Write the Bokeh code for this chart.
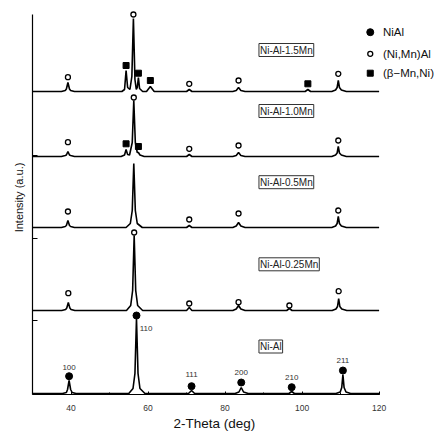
import numpy as np
from bokeh.plotting import figure
from bokeh.models import Range1d, SingleIntervalTicker, FixedTicker, Label
from bokeh.embed import file_html
from bokeh.resources import INLINE
from bokeh.core.properties import value

FONT = "Liberation Sans"

# ---- data (2-theta in deg, intensity in a.u.) ----
samples = ["Ni-Al", "Ni-Al-0.25Mn", "Ni-Al-0.5Mn", "Ni-Al-1.0Mn", "Ni-Al-1.5Mn"]
offsets = [1, 84, 167, 238, 303]

nial_x = [30, 37.8, 38.8, 39.1, 39.5, 39.9, 40.3, 41.3,
          55.0, 56.1, 56.6, 57.0, 57.4, 57.9, 59.2,
          70.5, 71.3, 72.1,
          82.6, 83.6, 84.2, 84.8, 86.0,
          96.6, 97.3, 98.0,
          108.8, 109.9, 110.3, 110.6, 110.9, 111.4, 112.6, 120]
nial_y = [0, 0, 1, 4, 13, 4, 1, 0,
          0, 5, 20, 75, 20, 5, 0,
          0, 3, 0,
          0, 1.5, 6, 1.5, 0,
          0, 2, 0,
          0, 1.5, 6, 19, 6, 1.5, 0, 0]

mn025_x = [30, 37.6, 38.6, 38.9, 39.3, 39.7, 40.0, 41.0,
           54.4, 55.5, 56.0, 56.4, 56.8, 57.3, 58.6,
           70.0, 70.7, 71.4,
           82.0, 82.9, 83.5, 84.1, 85.2,
           96.0, 96.7, 97.4,
           107.8, 108.8, 109.2, 109.5, 109.8, 110.3, 111.6, 120]
mn025_y = [0, 0, 1, 2.5, 8, 2.5, 1, 0,
           0, 5, 20, 75, 20, 5, 0,
           0, 3, 0,
           0, 1.5, 5, 1.5, 0,
           0, 2, 0,
           0, 1.5, 4, 12, 4, 1.5, 0, 0]

mn05_x = [30, 37.5, 38.5, 38.8, 39.2, 39.6, 39.9, 40.9,
          54.3, 55.4, 55.9, 56.3, 56.7, 57.2, 58.5,
          70.0, 70.7, 71.4,
          82.0, 82.9, 83.5, 84.1, 85.2,
          107.7, 108.7, 109.1, 109.4, 109.7, 110.2, 111.5, 120]
mn05_y = [0, 0, 1, 2, 7, 2, 1, 0,
          0, 4, 17, 64, 17, 4, 0,
          0, 2, 0,
          0, 1.5, 5, 1.5, 0,
          0, 1.5, 4, 11, 4, 1.5, 0, 0]

mn10_x = [30, 37.5, 38.5, 38.8, 39.2, 39.6, 39.9, 40.9,
          53.0, 53.9, 54.3, 54.7, 55.2, 55.9, 56.3, 56.7, 57.2, 57.5, 57.9, 59.0,
          70.0, 70.7, 71.4,
          82.0, 82.9, 83.5, 84.1, 85.2,
          107.7, 108.7, 109.1, 109.4, 109.7, 110.2, 111.5, 120]
mn10_y = [0, 0, 1, 1.5, 5, 1.5, 1, 0,
          0, 1.5, 7, 2, 1.5, 14, 56, 14, 4, 4, 1.5, 0,
          0, 2, 0,
          0, 1, 4, 1, 0,
          0, 1.5, 3.5, 10, 3.5, 1.5, 0, 0]

mn15_x = [30, 37.5, 38.5, 38.8, 39.2, 39.6, 39.9, 40.9,
          53.2, 53.9, 54.3, 54.7, 55.3, 55.8, 56.2, 56.6, 56.95, 57.2, 57.5, 57.8, 58.6,
          59.6, 60.6, 61.6,
          70.0, 70.7, 71.4,
          82.0, 82.9, 83.5, 84.1, 85.2,
          100.8, 101.5, 102.2,
          107.7, 108.7, 109.1, 109.4, 109.7, 110.2, 111.5, 120]
mn15_y = [0, 0, 1, 2.5, 9, 2.5, 1, 0,
          0, 2, 21, 4, 2, 15, 73, 12, 2, 4, 14, 3, 0,
          0, 5, 0,
          0, 2, 0,
          0, 1, 4, 1, 0,
          0, 2, 0,
          0, 1.5, 4, 11, 4, 1.5, 0, 0]

patterns_x = [nial_x, mn025_x, mn05_x, mn10_x, mn15_x]
patterns_y = [nial_y, mn025_y, mn05_y, mn10_y, mn15_y]

# phase markers
nial_mx = [39.5, 57.0, 71.3, 84.2, 97.3, 110.6]
nial_my = [18.3, 79, 8.3, 12, 7.3, 24]
hkl_labels = ["100", "110", "111", "200", "210", "211"]
hkl_x = [39.5, 59.5, 71.3, 84.2, 97.3, 110.6]
hkl_y = [27.3, 66, 20, 22.3, 17.3, 34]

nimnal_mx = [39.3, 56.4, 70.7, 83.5, 96.7, 109.5,
             39.2, 70.7, 83.5, 109.4,
             39.2, 56.3, 70.7, 83.5, 109.4,
             39.2, 56.2, 70.7, 83.5, 109.4]
nimnal_my = [101.3, 162, 91, 92.3, 89, 103.3,
             183, 175, 181, 184,
             252.3, 297, 245.7, 249, 254,
             317.3, 380, 310.7, 314, 320.7]

bmn_mx = [54.3, 57.5, 54.3, 57.5, 60.6, 101.5]
bmn_my = [250.7, 248, 329, 321.3, 314, 310.7]

label_x = 88.8
label_y = [48, 130.2, 212.3, 283.5, 344.5]

legend_names = ["NiAl", "(Ni,Mn)Al", "(\u03b2\u2212Mn,Ni)"]
legend_mx = 117.7
legend_tx = 121.0
legend_y = [362.3, 340.7, 321.3]

yticks = [74, 156.5, 239]

xlabel_text = "2-Theta (deg)"

# ---- figure ----
p = figure(width=436, height=433, output_backend="svg", toolbar_location=None,
           x_range=Range1d(30, 134.9), y_range=Range1d(0, 394),
           min_border_left=32, min_border_right=0, min_border_top=0,
           min_border_bottom=39, title_location="below")
p.outline_line_color = None
p.grid.visible = False
p.background_fill_color = "white"

# x-axis title placed as a below-title so that it can be centred under the axis line
p.title.text = xlabel_text
p.title.align = "left"
p.title.offset = 141
p.title.standoff = 1
p.title.text_font = FONT
p.title.text_font_size = "13.5px"
p.title.text_font_style = "normal"
p.title.text_color = "#111111"

p.xaxis.bounds = (30, 120)
p.xaxis.ticker = SingleIntervalTicker(interval=20, num_minor_ticks=2)
p.xaxis.major_tick_in = 3
p.xaxis.major_tick_out = 0
p.xaxis.minor_tick_in = 2
p.xaxis.minor_tick_out = 0
p.xaxis.axis_line_color = "black"
p.xaxis.axis_line_width = 1.2
p.xaxis.major_label_text_font = FONT
p.xaxis.major_label_text_font_size = "8.5px"
p.xaxis.major_label_text_color = "#333333"
p.xaxis.major_label_standoff = 10

p.yaxis.bounds = (0, 380)
p.yaxis.ticker = FixedTicker(ticks=yticks)
p.yaxis.major_label_overrides = {t: "" for t in yticks}
p.yaxis.major_tick_in = 5
p.yaxis.major_tick_out = 0
p.yaxis.axis_line_width = 1.2
p.yaxis.minor_tick_line_color = None
p.yaxis.axis_label = "Intensity (a.u.)"
p.yaxis.axis_label_text_font = FONT
p.yaxis.axis_label_text_font_size = "11px"
p.yaxis.axis_label_text_font_style = "normal"
p.yaxis.axis_label_text_color = "#111111"
p.yaxis.axis_label_standoff = 8

for xs, ys, off in zip(patterns_x, patterns_y, offsets):
    p.line(xs, np.array(ys) + off, line_color="black", line_width=1.6)

p.scatter(nial_mx, nial_my, marker="circle", size=7, fill_color="black", line_color="black")
p.scatter(nimnal_mx, nimnal_my, marker="circle", size=5, fill_color="white",
          line_color="black", line_width=1.3)
p.scatter(bmn_mx, bmn_my, marker="square", size=6, fill_color="black", line_color="black")

p.text(hkl_x, hkl_y, text=hkl_labels, text_font=value(FONT), text_font_size="8px",
       text_color="#333333", text_align="center", text_baseline="middle")

for name, ly in zip(samples, label_y):
    p.add_layout(Label(x=label_x, y=ly, text=name, text_font=FONT, text_font_size="10px",
                       text_color="#222222", text_align="left", text_baseline="middle",
                       border_line_color="#333333", border_line_width=1, padding=1,
                       background_fill_color="white"))

p.scatter([legend_mx], [legend_y[0]], marker="circle", size=7, fill_color="black", line_color="black")
p.scatter([legend_mx], [legend_y[1]], marker="circle", size=5, fill_color="white",
          line_color="black", line_width=1.3)
p.scatter([legend_mx], [legend_y[2]], marker="square", size=6, fill_color="black", line_color="black")
p.text([legend_tx] * 3, legend_y, text=legend_names, text_font=value(FONT), text_font_size="11.5px",
       text_color="#111111", text_align="left", text_baseline="middle")

open("out.html", "w").write(file_html(p, INLINE))
